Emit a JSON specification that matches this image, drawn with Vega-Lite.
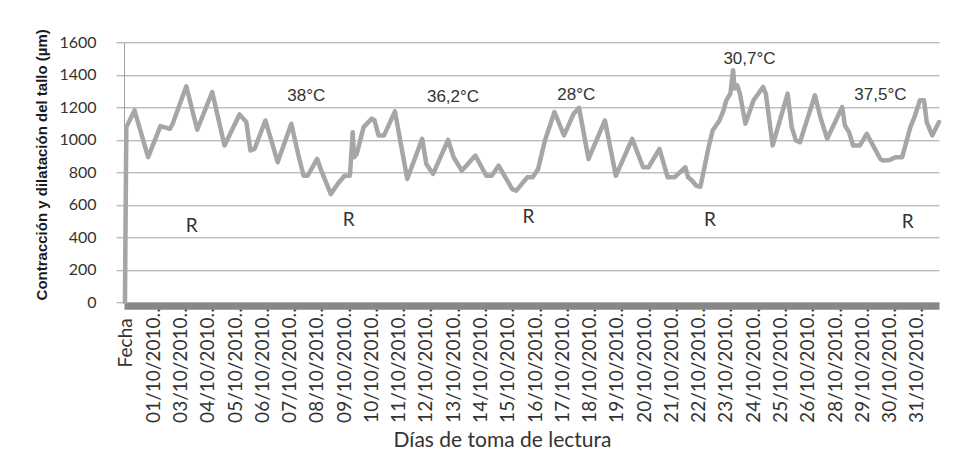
{
  "$schema": "https://vega.github.io/schema/vega-lite/v6.json",
  "width": 815,
  "height": 260,
  "autosize": "none",
  "padding": {"left": 124, "top": 42.3, "right": 17, "bottom": 161.7},
  "background": "white",
  "config": {"view": {"stroke": null}},
  "datasets": {
    "serie": [
      {"lectura": 0, "valor": 0},
      {"lectura": 1, "valor": 1078},
      {"lectura": 7, "valor": 1181},
      {"lectura": 17, "valor": 893},
      {"lectura": 26, "valor": 1084},
      {"lectura": 33, "valor": 1068},
      {"lectura": 35, "valor": 1099},
      {"lectura": 45, "valor": 1329},
      {"lectura": 53, "valor": 1062},
      {"lectura": 64, "valor": 1294},
      {"lectura": 73, "valor": 965},
      {"lectura": 84, "valor": 1156},
      {"lectura": 89, "valor": 1109},
      {"lectura": 92, "valor": 934},
      {"lectura": 95, "valor": 944},
      {"lectura": 103, "valor": 1119},
      {"lectura": 112, "valor": 862},
      {"lectura": 122, "valor": 1099},
      {"lectura": 127, "valor": 913},
      {"lectura": 131, "valor": 779},
      {"lectura": 134, "valor": 779},
      {"lectura": 141, "valor": 882},
      {"lectura": 144, "valor": 810},
      {"lectura": 151, "valor": 666},
      {"lectura": 156, "valor": 728},
      {"lectura": 161, "valor": 779},
      {"lectura": 165, "valor": 779},
      {"lectura": 167, "valor": 1047},
      {"lectura": 168, "valor": 893},
      {"lectura": 170, "valor": 913},
      {"lectura": 175, "valor": 1078},
      {"lectura": 181, "valor": 1130},
      {"lectura": 183, "valor": 1120},
      {"lectura": 186, "valor": 1027},
      {"lectura": 190, "valor": 1027},
      {"lectura": 198, "valor": 1175},
      {"lectura": 207, "valor": 759},
      {"lectura": 218, "valor": 1006},
      {"lectura": 221, "valor": 851},
      {"lectura": 226, "valor": 790},
      {"lectura": 237, "valor": 1000},
      {"lectura": 241, "valor": 893},
      {"lectura": 247, "valor": 810},
      {"lectura": 257, "valor": 903},
      {"lectura": 265, "valor": 779},
      {"lectura": 269, "valor": 779},
      {"lectura": 274, "valor": 841},
      {"lectura": 284, "valor": 697},
      {"lectura": 287, "valor": 687},
      {"lectura": 295, "valor": 769},
      {"lectura": 299, "valor": 769},
      {"lectura": 303, "valor": 820},
      {"lectura": 308, "valor": 996},
      {"lectura": 315, "valor": 1171},
      {"lectura": 322, "valor": 1027},
      {"lectura": 329, "valor": 1160},
      {"lectura": 333, "valor": 1197},
      {"lectura": 340, "valor": 882},
      {"lectura": 352, "valor": 1119},
      {"lectura": 360, "valor": 779},
      {"lectura": 372, "valor": 1006},
      {"lectura": 380, "valor": 831},
      {"lectura": 384, "valor": 831},
      {"lectura": 392, "valor": 944},
      {"lectura": 398, "valor": 769},
      {"lectura": 403, "valor": 769},
      {"lectura": 411, "valor": 831},
      {"lectura": 413, "valor": 769},
      {"lectura": 416, "valor": 748},
      {"lectura": 419, "valor": 717},
      {"lectura": 422, "valor": 711},
      {"lectura": 424, "valor": 790},
      {"lectura": 428, "valor": 954},
      {"lectura": 431, "valor": 1057},
      {"lectura": 436, "valor": 1119},
      {"lectura": 439, "valor": 1181},
      {"lectura": 441, "valor": 1243},
      {"lectura": 444, "valor": 1284},
      {"lectura": 446, "valor": 1428},
      {"lectura": 447, "valor": 1315},
      {"lectura": 449, "valor": 1336},
      {"lectura": 451, "valor": 1284},
      {"lectura": 455, "valor": 1099},
      {"lectura": 461, "valor": 1243},
      {"lectura": 468, "valor": 1325},
      {"lectura": 470, "valor": 1284},
      {"lectura": 475, "valor": 965},
      {"lectura": 486, "valor": 1284},
      {"lectura": 489, "valor": 1078},
      {"lectura": 492, "valor": 996},
      {"lectura": 495, "valor": 985},
      {"lectura": 506, "valor": 1274},
      {"lectura": 510, "valor": 1140},
      {"lectura": 515, "valor": 1006},
      {"lectura": 526, "valor": 1202},
      {"lectura": 528, "valor": 1088},
      {"lectura": 531, "valor": 1047},
      {"lectura": 534, "valor": 965},
      {"lectura": 539, "valor": 965},
      {"lectura": 544, "valor": 1037},
      {"lectura": 548, "valor": 975},
      {"lectura": 554, "valor": 882},
      {"lectura": 556, "valor": 872},
      {"lectura": 561, "valor": 876},
      {"lectura": 565, "valor": 893},
      {"lectura": 570, "valor": 893},
      {"lectura": 576, "valor": 1078},
      {"lectura": 579, "valor": 1140},
      {"lectura": 583, "valor": 1243},
      {"lectura": 586, "valor": 1243},
      {"lectura": 588, "valor": 1109},
      {"lectura": 592, "valor": 1027},
      {"lectura": 597, "valor": 1109}
    ],
    "temperaturas": [
      {"lectura": 133, "valor": 1270, "texto": "38°C"},
      {"lectura": 240.6, "valor": 1263, "texto": "36,2°C"},
      {"lectura": 331, "valor": 1276, "texto": "28°C"},
      {"lectura": 458, "valor": 1497, "texto": "30,7°C"},
      {"lectura": 554, "valor": 1276, "texto": "37,5°C"}
    ],
    "riegos": [
      {"lectura": 49, "valor": 471, "texto": "R"},
      {"lectura": 164, "valor": 506, "texto": "R"},
      {"lectura": 296, "valor": 525, "texto": "R"},
      {"lectura": 429, "valor": 506, "texto": "R"},
      {"lectura": 574, "valor": 494, "texto": "R"}
    ]
  },
  "encoding": {
    "x": {
      "field": "lectura",
      "type": "quantitative",
      "scale": {"domain": [-0.7, 597], "nice": false, "zero": false},
      "axis": {
        "values": [0, 20, 40, 60, 80, 100, 120, 140, 160, 180, 200, 220, 240, 260, 280, 300, 320, 340, 360, 380, 400, 420, 440, 460, 480, 500, 520, 540, 560, 580],
        "labelExpr": "['Fecha','01/10/2010…','03/10/2010…','04/10/2010…','05/10/2010…','06/10/2010…','07/10/2010…','08/10/2010…','09/10/2010…','10/10/2010…','11/10/2010…','12/10/2010…','13/10/2010…','14/10/2010…','15/10/2010…','16/10/2010…','17/10/2010…','18/10/2010…','19/10/2010…','20/10/2010…','21/10/2010…','22/10/2010…','23/10/2010…','24/10/2010…','25/10/2010…','26/10/2010…','28/10/2010…','29/10/2010…','30/10/2010…','31/10/2010…'][round(datum.value / 20)]",
        "labelAngle": 270,
        "labelAlign": "right",
        "labelBaseline": "middle",
        "labelFont": "Lato",
        "labelFontSize": 19,
        "labelColor": "#333333",
        "labelPadding": {"condition": {"test": "datum.value == 0", "value": 12}, "value": -3},
        "labelOffset": 1,
        "labelOverlap": false,
        "labelFlush": false,
        "ticks": false,
        "tickSize": 0,
        "grid": false,
        "domain": true,
        "domainColor": "#878787",
        "domainWidth": 7,
        "offset": 3.5,
        "title": "Días de toma de lectura",
        "titleFont": "Lato",
        "titleFontSize": 21,
        "titleFontWeight": "normal",
        "titleColor": "#333333",
        "titleAlign": "center",
        "titleBaseline": "alphabetic",
        "titleX": 378,
        "titleY": 141
      }
    },
    "y": {
      "field": "valor",
      "type": "quantitative",
      "scale": {"domain": [0, 1600], "nice": false},
      "axis": {
        "values": [0, 200, 400, 600, 800, 1000, 1200, 1400, 1600],
        "format": "d",
        "labelOverlap": false,
        "grid": true,
        "gridColor": "#a0a0a0",
        "gridWidth": 1,
        "domain": true,
        "domainColor": "#a0a0a0",
        "domainWidth": 1,
        "ticks": true,
        "tickSize": 8,
        "tickColor": "#a0a0a0",
        "labelPadding": 20,
        "labelFont": "Lato",
        "labelFontSize": 16,
        "labelColor": "#333333",
        "title": "Contracción y dilatación del tallo (µm)",
        "titleFont": "Liberation Sans",
        "titleFontWeight": "bold",
        "titleFontSize": 15,
        "titleColor": "#1a1a1a",
        "titleAngle": 270,
        "titleAlign": "center",
        "titleBaseline": "alphabetic",
        "titleX": -78,
        "titleY": 122
      }
    }
  },
  "layer": [
    {
      "data": {"name": "serie"},
      "mark": {"type": "line", "color": "#a6a6a6", "strokeWidth": 4.5, "strokeJoin": "round", "strokeCap": "round"}
    },
    {
      "data": {"name": "temperaturas"},
      "mark": {"type": "text", "font": "Liberation Sans", "fontSize": 17, "color": "#333333", "align": "center", "baseline": "middle"},
      "encoding": {"text": {"field": "texto"}}
    },
    {
      "data": {"name": "riegos"},
      "mark": {"type": "text", "font": "Lato", "fontSize": 19, "color": "#333333", "align": "center", "baseline": "middle"},
      "encoding": {"text": {"field": "texto"}}
    }
  ]
}
